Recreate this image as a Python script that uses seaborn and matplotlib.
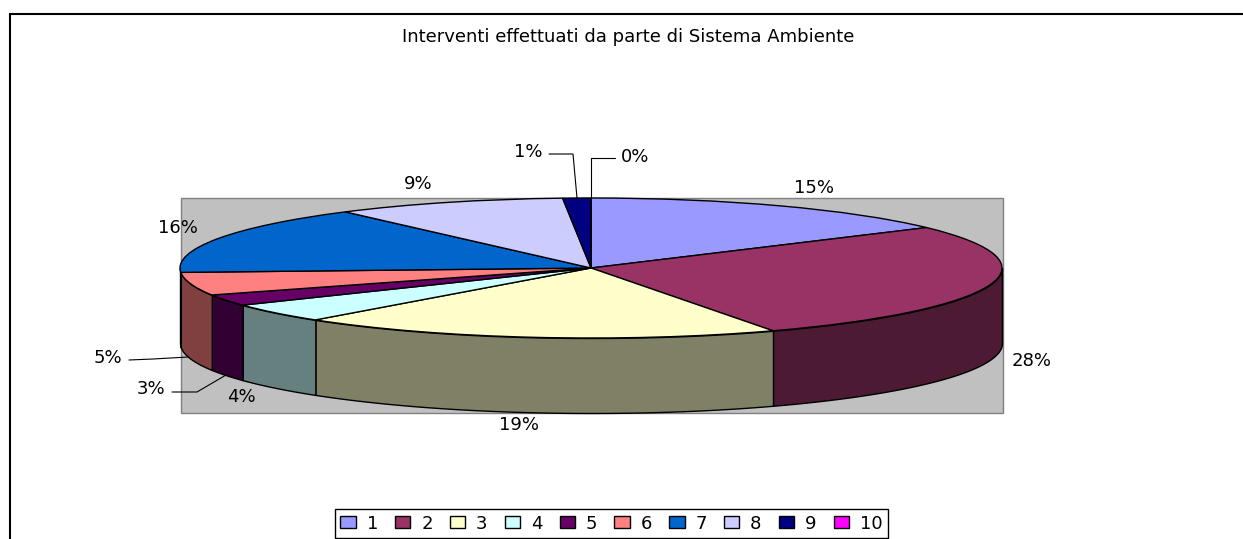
import numpy as np
import pandas as pd
import seaborn as sns
from matplotlib import pyplot as plt
from matplotlib.patches import Rectangle

title = 'Interventi effettuati da parte di Sistema Ambiente'
categories = ['1', '2', '3', '4', '5', '6', '7', '8', '9', '10']
shares = [15.2, 27.5, 19.0, 4.4, 2.6, 5.3, 15.8, 9.1, 1.1, 0.0]
top_colors = ['#9999FF', '#993366', '#FFFFCC', '#CCFFFF', '#660066',
              '#FF8080', '#0066CC', '#CCCCFF', '#000080', '#FF00FF']

W, H = 1243, 539
# pie geometry in pixels
cx, cy, rx, ry, depth = 591, 268, 411, 70, 75

sns.set_theme(style='white', rc={'text.color': 'black', 'axes.linewidth': 0})
plt.rcParams['font.family'] = ['DejaVu Sans']

df = pd.DataFrame({'cat': categories, 'share': shares})
palette = sns.color_palette(top_colors)
side_colors = [tuple(c * 0.5 for c in col) for col in palette]

fig = plt.figure(figsize=(W / 100, H / 100), dpi=100, facecolor='white')

# background axes, in image pixels: frame, grey wall, title, labels
bg = fig.add_axes([0, 0, 1, 1], zorder=0)
bg.set_xlim(0, W)
bg.set_ylim(H, 0)
bg.axis('off')
bg.plot([10, 10, W], [H, 14, 14], color='black', lw=1.5, solid_joinstyle='miter')
bg.add_patch(Rectangle((181, 198), 822, 215, facecolor='#C0C0C0', edgecolor='#808080', lw=1))
bg.text(628, 37, title, ha='center', va='center', fontsize=13)

label_pos = [(814, 188), (1032, 361), (519, 425), (241, 397), (151, 389),
             (108, 358), (178, 228), (418, 184), (528, 152), (635, 157)]
for (x, y), s in zip(label_pos, df['share']):
    bg.text(x, y, '%d%%' % round(s + 0.01), ha='center', va='center', fontsize=13)

leaders = [([129, 153, 188], [360, 359, 357]),
           ([172, 197, 226], [392, 392, 375]),
           ([549, 573, 577], [154, 154, 198]),
           ([615, 591, 591], [158, 158, 198])]
for xs, ys in leaders:
    bg.plot(xs, ys, color='black', lw=0.8)

# pie axes: unit circle squashed to the ellipse
ax = fig.add_axes([0, 0, 1, 1], zorder=1)
wedges, _ = ax.pie(df['share'], colors=palette, startangle=90, counterclock=False,
                   wedgeprops={'edgecolor': 'black', 'linewidth': 1, 'zorder': 3})
ax.set_aspect('auto')
ax.set_xlim(-cx / rx, (W - cx) / rx)
ax.set_ylim((cy - H) / ry, cy / ry)
ax.patch.set_visible(False)

# side wall, front half only
drop = depth / ry
for w, col in zip(wedges, side_colors):
    lo, hi = max(w.theta1, -180), min(w.theta2, 0)
    if hi <= lo:
        continue
    t = np.radians(np.linspace(lo, hi, 80))
    ax.fill_between(np.cos(t), np.sin(t), np.sin(t) - drop, facecolor=col,
                    edgecolor='black', linewidth=1, zorder=2)

leg = ax.legend(wedges, df['cat'], ncol=10, loc='lower left',
                bbox_to_anchor=(335 / W, 1 / H), borderaxespad=0, frameon=True,
                fancybox=False, edgecolor='black', framealpha=1, fontsize=13,
                handlelength=0.85, handleheight=0.6, handletextpad=0.6,
                columnspacing=0.95, borderpad=0.3)
leg.get_frame().set_linewidth(1)

fig.savefig('out.png', dpi=100)
